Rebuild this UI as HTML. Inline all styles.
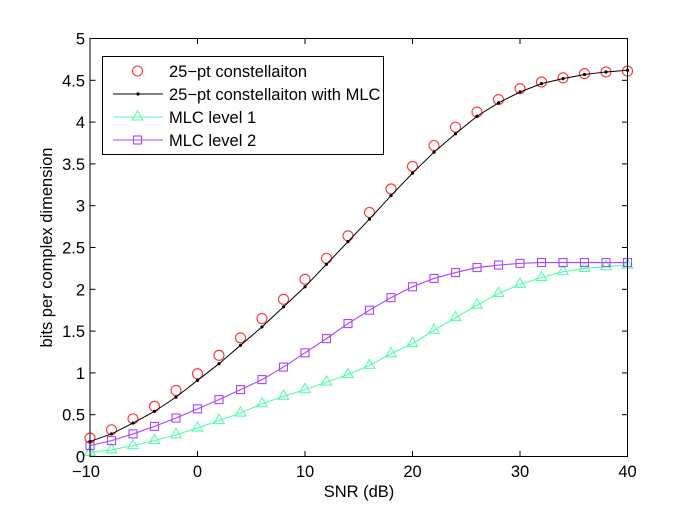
<!DOCTYPE html>
<html>
<head>
<meta charset="utf-8">
<style>
html,body{margin:0;padding:0;background:#fff;}
svg{display:block;}
text{font-family:"Liberation Sans",sans-serif;fill:#000;}
</style>
</head>
<body>
<svg id="chart" xmlns="http://www.w3.org/2000/svg" width="692" height="514" viewBox="0 0 692 514">
  <rect x="90" y="38.5" width="537.5" height="418" fill="#fff"/>
  <g id="series"></g>
  <g id="axes"></g>
  <text x="359" y="497" font-size="16.5" text-anchor="middle">SNR (dB)</text>
  <text transform="translate(52 247.5) rotate(-90)" font-size="16.5" text-anchor="middle">bits per complex dimension</text>
  <g>
    <rect x="102.5" y="56.5" width="281" height="98" fill="#fff" stroke="#000" stroke-width="1"/>
    <g>
      <circle cx="137.5" cy="71" r="5" fill="none" stroke="#ff3333" stroke-width="1.1"/>
      <text x="169" y="77" font-size="16.5">25−pt constellaiton</text>
    </g>
    <g>
      <line x1="113" y1="94" x2="163" y2="94" stroke="#000" stroke-width="1"/>
      <circle cx="138" cy="94" r="1.6" fill="#000"/>
      <text x="169" y="100" font-size="16.5">25−pt constellaiton with MLC</text>
    </g>
    <g>
      <line x1="113" y1="117" x2="163" y2="117" stroke="#55ffaa" stroke-width="1.1"/>
      <path d="M137.5 110.8 L142.8 120 L132.2 120 Z" fill="none" stroke="#55ffaa" stroke-width="1.1"/>
      <text x="169" y="123" font-size="16.5">MLC level 1</text>
    </g>
    <g>
      <line x1="113" y1="140" x2="163" y2="140" stroke="#aa44ff" stroke-width="1.1"/>
      <rect x="133.5" y="136" width="8" height="8" fill="none" stroke="#aa44ff" stroke-width="1.1"/>
      <text x="169" y="146" font-size="16.5">MLC level 2</text>
    </g>
  </g>
</svg>
<script>
var snr = [-10,-8,-6,-4,-2,0,2,4,6,8,10,12,14,16,18,20,22,24,26,28,30,32,34,36,38,40];
var constellation = [0.22,0.32,0.45,0.60,0.79,0.99,1.21,1.42,1.65,1.88,2.12,2.37,2.64,2.92,3.20,3.47,3.72,3.94,4.12,4.27,4.40,4.48,4.53,4.58,4.60,4.61];
var constellationMlc = [0.18,0.27,0.40,0.54,0.71,0.91,1.11,1.33,1.55,1.79,2.03,2.30,2.57,2.84,3.12,3.39,3.64,3.86,4.07,4.23,4.36,4.46,4.52,4.57,4.60,4.62];
var mlcLevel1 = [0.05,0.08,0.13,0.19,0.26,0.34,0.43,0.52,0.63,0.72,0.80,0.89,0.98,1.09,1.23,1.35,1.51,1.66,1.81,1.95,2.06,2.14,2.21,2.25,2.27,2.29];
var mlcLevel2 = [0.13,0.19,0.27,0.36,0.46,0.57,0.68,0.80,0.92,1.07,1.24,1.41,1.59,1.75,1.90,2.03,2.13,2.20,2.26,2.29,2.31,2.32,2.32,2.32,2.32,2.32];
var xTicks = [-10,0,10,20,30,40];
var yTicks = [0,0.5,1,1.5,2,2.5,3,3.5,4,4.5,5];

var NS = 'http://www.w3.org/2000/svg';
function xScale(v){ return 90 + (v + 10) / 50 * 537.5; }
function yScale(v){ return 456.5 - v / 5 * 418; }
function make(tag, parent, attrs){
  var el = document.createElementNS(NS, tag);
  for (var k in attrs) el.setAttribute(k, attrs[k]);
  parent.appendChild(el);
  return el;
}
var seriesLayer = document.getElementById('series');
var axesLayer = document.getElementById('axes');

function polyPoints(values){
  return values.map(function(v, i){ return xScale(snr[i]).toFixed(2) + ',' + yScale(v).toFixed(2); }).join(' ');
}

/* MLC level 1 */
var greenLine = make('polyline', seriesLayer, {points: polyPoints(mlcLevel1), fill: 'none', stroke: '#55ffaa', 'stroke-width': 1.1});


mlcLevel1.forEach(function(v, i){
  var x = xScale(snr[i]), y = yScale(v);
  var m = make('path', seriesLayer, {d: 'M' + x + ' ' + (y - 6.2) + ' L' + (x + 5.3) + ' ' + (y + 3) + ' L' + (x - 5.3) + ' ' + (y + 3) + ' Z', fill: 'none', stroke: '#55ffaa', 'stroke-width': 1.1});
  
  
});

/* MLC level 2 */
var purpleLine = make('polyline', seriesLayer, {points: polyPoints(mlcLevel2), fill: 'none', stroke: '#aa44ff', 'stroke-width': 1.1});


mlcLevel2.forEach(function(v, i){
  var x = xScale(snr[i]), y = yScale(v);
  var m = make('rect', seriesLayer, {x: x - 4, y: y - 4, width: 8, height: 8, fill: 'none', stroke: '#aa44ff', 'stroke-width': 1.1});
  
  
});

/* 25-pt constellation */
constellation.forEach(function(v, i){
  var m = make('circle', seriesLayer, {cx: xScale(snr[i]), cy: yScale(v), r: 5, fill: 'none', stroke: '#ff3333', 'stroke-width': 1.1});
  
  
});

/* 25-pt constellation with MLC */
var blackLine = make('polyline', seriesLayer, {points: polyPoints(constellationMlc), fill: 'none', stroke: '#000', 'stroke-width': 1});


constellationMlc.forEach(function(v, i){
  var m = make('circle', seriesLayer, {cx: xScale(snr[i]), cy: yScale(v), r: 1.6, fill: '#000'});
  
  
});

/* Axes frame */
var frame = make('rect', axesLayer, {x: 90, y: 38.5, width: 537.5, height: 418, fill: 'none', stroke: '#000', 'stroke-width': 1});



xTicks.forEach(function(t){
  var x = xScale(t);
  var b = make('line', axesLayer, {x1: x, y1: 456.5, x2: x, y2: 451, stroke: '#000', 'stroke-width': 1});
  
  
  var u = make('line', axesLayer, {x1: x, y1: 38.5, x2: x, y2: 44, stroke: '#000', 'stroke-width': 1});
  
  
  var label = make('text', axesLayer, {x: x - (t < 0 ? 4 : 0), y: 477, 'font-size': 16.5, 'text-anchor': 'middle'});
  
  
  label.textContent = String(t).replace('-', '\u2212');
});

yTicks.forEach(function(t){
  var y = yScale(t);
  var l = make('line', axesLayer, {x1: 90, y1: y, x2: 95.5, y2: y, stroke: '#000', 'stroke-width': 1});
  
  
  var r = make('line', axesLayer, {x1: 627.5, y1: y, x2: 622, y2: y, stroke: '#000', 'stroke-width': 1});
  
  
  var label = make('text', axesLayer, {x: 85, y: y + 6, 'font-size': 16.5, 'text-anchor': 'end'});
  
  
  label.textContent = String(t);
});
</script>
</body>
</html>
